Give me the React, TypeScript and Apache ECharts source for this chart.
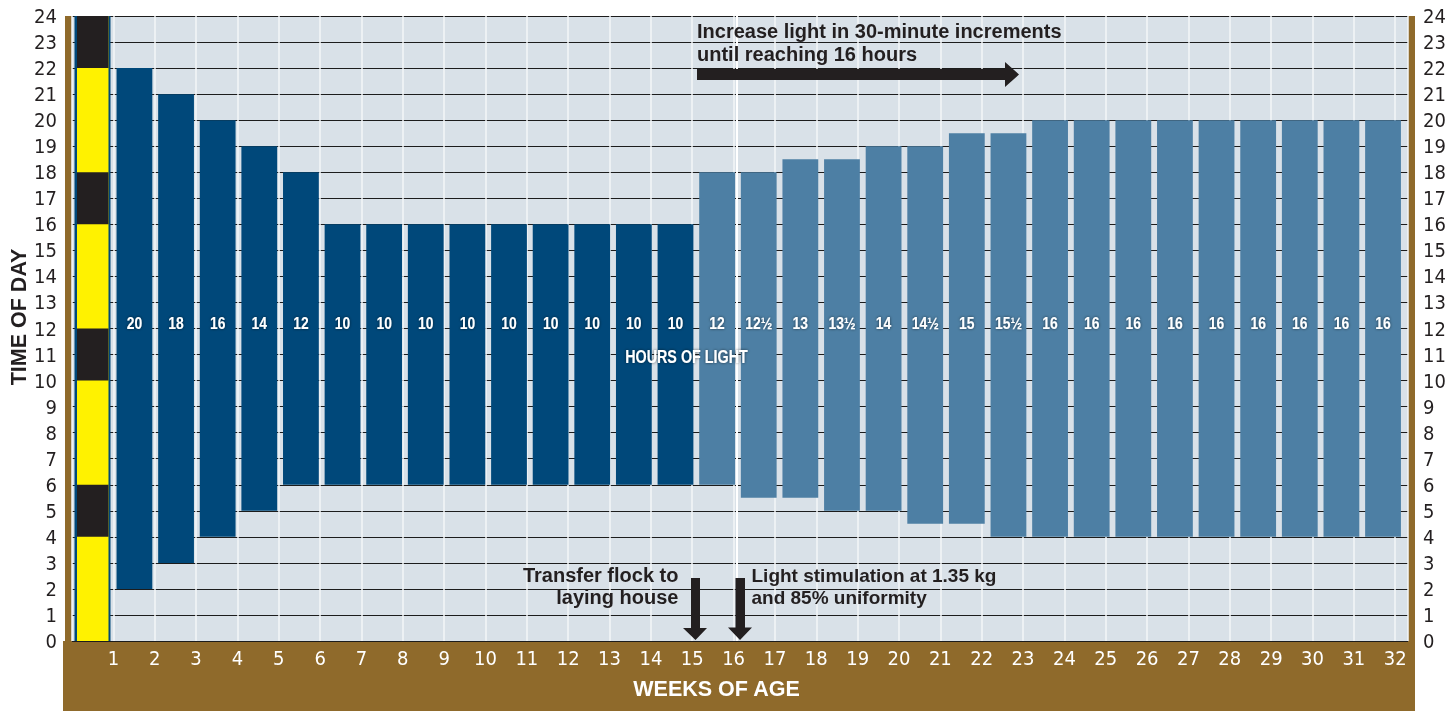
import React, { useEffect, useRef } from "react";
import * as echarts from "echarts";

// ---- data ----
const weeks = [1, 2, 3, 4, 5, 6, 7, 8, 9, 10, 11, 12, 13, 14, 15, 16, 17, 18, 19, 20, 21, 22, 23, 24, 25, 26, 27, 28, 29, 30, 31];
const lightOnHour = [2, 3, 4, 5, 6, 6, 6, 6, 6, 6, 6, 6, 6, 6, 6, 5.5, 5.5, 5, 5, 4.5, 4.5, 4, 4, 4, 4, 4, 4, 4, 4, 4, 4];
const lightOffHour = [22, 21, 20, 19, 18, 16, 16, 16, 16, 16, 16, 16, 16, 16, 18, 18, 18.5, 18.5, 19, 19, 19.5, 19.5, 20, 20, 20, 20, 20, 20, 20, 20, 20];
const hoursOfLightLabels = ["20", "18", "16", "14", "12", "10", "10", "10", "10", "10", "10", "10", "10", "10", "12", "12½", "13", "13½", "14", "14½", "15", "15½", "16", "16", "16", "16", "16", "16", "16", "16", "16"];
const layingHouseFromWeek = 15;
const darkPeriods = [[4, 6], [10, 12], [16, 18], [22, 24]];
const lightStimulationWeek = 16;

const DARK_BLUE = "#00487a";
const LIGHT_BLUE = "#4d7fa4";
const BG = "#d9e1e8";
const BROWN = "#8f6a2b";
const INK = "#231f20";
const YELLOW = "#fff200";
const NARROW = "'Liberation Sans Narrow','Arial Narrow','DejaVu Sans Condensed',sans-serif";
const SANS = "'Liberation Sans',Arial,sans-serif";

export default function App() {
  const ref = useRef<HTMLDivElement>(null);
  useEffect(() => {
    if (!ref.current) return;
    const chart = echarts.init(ref.current, undefined, { renderer: "svg" });
    const barData = weeks.map((w, i) => [w, lightOnHour[i], lightOffHour[i], w >= layingHouseFromWeek ? 1 : 0]);
    const option: any = {
      animation: false,
      grid: { left: 72, right: 48, top: 16, bottom: 70, show: true, backgroundColor: BG, borderWidth: 0 },
      xAxis: [
        {
          type: "value",
          min: 0,
          max: 32.31,
          interval: 1,
          position: "bottom",
          axisLine: { show: false },
          axisTick: { show: false },
          axisLabel: {
            color: "#ffffff",
            fontFamily: NARROW,
            fontSize: 20,
            margin: 7,
            showMaxLabel: false,
            formatter: (v: number) => (Number.isInteger(v) && v > 0 ? String(v) : ""),
          },
          splitLine: { show: true, lineStyle: { color: "#f3f6f8", width: 1.5 } },
        },
        {
          type: "value",
          min: 0,
          max: 32.1,
          interval: 1,
          position: "bottom",
          show: false,
          splitLine: { show: false },
        },
      ],
      yAxis: [
        {
          type: "value",
          min: 0,
          max: 24,
          interval: 1,
          position: "left",
          axisLine: { show: false },
          axisTick: { show: false },
          axisLabel: { color: INK, fontFamily: NARROW, fontSize: 20, margin: 15 },
          splitLine: { show: true, lineStyle: { color: "#1c1c1c", width: 1.2 } },
        },
        {
          type: "value",
          min: 0,
          max: 24,
          interval: 1,
          position: "right",
          axisLine: { show: false },
          axisTick: { show: false },
          axisLabel: { color: INK, fontFamily: NARROW, fontSize: 20, margin: 15 },
          splitLine: { show: false },
        },
      ],
      series: [
        {
          type: "custom",
          name: "day",
          silent: true,
          xAxisIndex: 1,
          data: [[0, 0, 24]],
          renderItem: (params: any, api: any) => {
            const tl = api.coord([0.06, api.value(2)]);
            const br = api.coord([0.925, api.value(1)]);
            return {
              type: "group",
              children: [
                { type: "rect", shape: { x: tl[0], y: tl[1], width: br[0] - tl[0], height: br[1] - tl[1] }, style: { fill: DARK_BLUE } },
                { type: "rect", shape: { x: tl[0] + 2.5, y: tl[1], width: br[0] - tl[0] - 4.5, height: br[1] - tl[1] }, style: { fill: YELLOW } },
              ],
            };
          },
        },
        {
          type: "custom",
          name: "night",
          silent: true,
          xAxisIndex: 1,
          data: darkPeriods.map((p) => [0, p[0], p[1]]),
          renderItem: (params: any, api: any) => {
            const tl = api.coord([0.06, api.value(2)]);
            const br = api.coord([0.925, api.value(1)]);
            return { type: "rect", shape: { x: tl[0] + 2.5, y: tl[1], width: br[0] - tl[0] - 4.5, height: br[1] - tl[1] }, style: { fill: INK } };
          },
        },
        {
          type: "custom",
          name: "light",
          silent: true,
          xAxisIndex: 1,
          data: barData,
          renderItem: (params: any, api: any) => {
            const w = api.value(0);
            const tl = api.coord([w + 0.07, api.value(2)]);
            const br = api.coord([w + 0.93, api.value(1)]);
            const mid = api.coord([w + 0.5, 12.2]);
            return {
              type: "group",
              children: [
                {
                  type: "rect",
                  shape: { x: tl[0], y: tl[1], width: br[0] - tl[0], height: br[1] - tl[1] },
                  style: { fill: api.value(3) ? LIGHT_BLUE : DARK_BLUE },
                },
                {
                  type: "text",
                  x: mid[0],
                  y: mid[1],
                  scaleX: 0.82,
                  style: {
                    text: hoursOfLightLabels[params.dataIndex],
                    fill: "#ffffff",
                    font: `bold 17px ${SANS}`,
                    textAlign: "center",
                    textVerticalAlign: "middle",
                    textShadowColor: "rgba(0,0,0,0.6)",
                    textShadowBlur: 3,
                  },
                },
              ],
            };
          },
          markLine: {
            silent: true,
            symbol: "none",
            label: { show: false },
            lineStyle: { color: "#ffffff", width: 2, type: "solid" },
            data: [{ xAxis: lightStimulationWeek - 0.035 }],
          },
        },
      ],
      graphic: [
        { type: "rect", z: -5, shape: { x: 65, y: 16, width: 7.5, height: 625 }, style: { fill: BROWN } },
        { type: "rect", z: -5, shape: { x: 1408, y: 16, width: 7, height: 625 }, style: { fill: BROWN } },
        { type: "rect", z: -5, shape: { x: 63, y: 641, width: 1352, height: 70 }, style: { fill: BROWN } },
        {
          type: "text",
          x: 18.5,
          y: 317,
          rotation: Math.PI / 2,
          style: { text: "TIME OF DAY", fill: INK, font: `bold 21.5px ${SANS}`, textAlign: "center", textVerticalAlign: "middle" },
        },
        {
          type: "text",
          x: 716.5,
          y: 689,
          style: { text: "WEEKS OF AGE", fill: "#ffffff", font: `bold 21.5px ${SANS}`, textAlign: "center", textVerticalAlign: "middle" },
        },
        {
          type: "text",
          x: 686.5,
          y: 356.5,
          z: 100,
          scaleX: 0.82,
          style: {
            text: "HOURS OF LIGHT",
            fill: "#ffffff",
            font: `bold 17.5px ${SANS}`,
            textAlign: "center",
            textVerticalAlign: "middle",
            textShadowColor: "rgba(0,0,0,0.6)",
            textShadowBlur: 3,
          },
        },
        {
          type: "text",
          x: 697,
          y: 30.5,
          z: 100,
          style: { text: "Increase light in 30-minute increments", fill: INK, font: `bold 20px ${SANS}`, textAlign: "left", textVerticalAlign: "middle" },
        },
        {
          type: "text",
          x: 697,
          y: 53.5,
          z: 100,
          style: { text: "until reaching 16 hours", fill: INK, font: `bold 20px ${SANS}`, textAlign: "left", textVerticalAlign: "middle" },
        },
        {
          type: "polygon",
          z: 100,
          shape: { points: [[697, 69], [1005, 69], [1005, 62], [1019, 74.5], [1005, 87], [1005, 80], [697, 80]] },
          style: { fill: INK },
        },
        {
          type: "text",
          x: 678.5,
          y: 575,
          z: 100,
          style: { text: "Transfer flock to", fill: INK, font: `bold 20px ${SANS}`, textAlign: "right", textVerticalAlign: "middle" },
        },
        {
          type: "text",
          x: 678.5,
          y: 597,
          z: 100,
          style: { text: "laying house", fill: INK, font: `bold 20px ${SANS}`, textAlign: "right", textVerticalAlign: "middle" },
        },
        {
          type: "text",
          x: 751.5,
          y: 575,
          z: 100,
          style: { text: "Light stimulation at 1.35 kg", fill: INK, font: `bold 19px ${SANS}`, textAlign: "left", textVerticalAlign: "middle" },
        },
        {
          type: "text",
          x: 751.5,
          y: 597,
          z: 100,
          style: { text: "and 85% uniformity", fill: INK, font: `bold 19px ${SANS}`, textAlign: "left", textVerticalAlign: "middle" },
        },
        {
          type: "polygon",
          z: 100,
          shape: { points: [[691, 578], [700, 578], [700, 628], [707, 628], [695.5, 640], [683, 628], [691, 628]] },
          style: { fill: INK },
        },
        {
          type: "polygon",
          z: 100,
          shape: { points: [[735.5, 578], [745, 578], [745, 627.5], [752, 627.5], [740, 640], [728, 627.5], [735.5, 627.5]] },
          style: { fill: INK },
        },
      ],
    };
    chart.setOption(option);
    return () => chart.dispose();
  }, []);
  return <div ref={ref} style={{ position: "fixed", left: 0, top: 0, width: 1456, height: 711 }} />;
}
